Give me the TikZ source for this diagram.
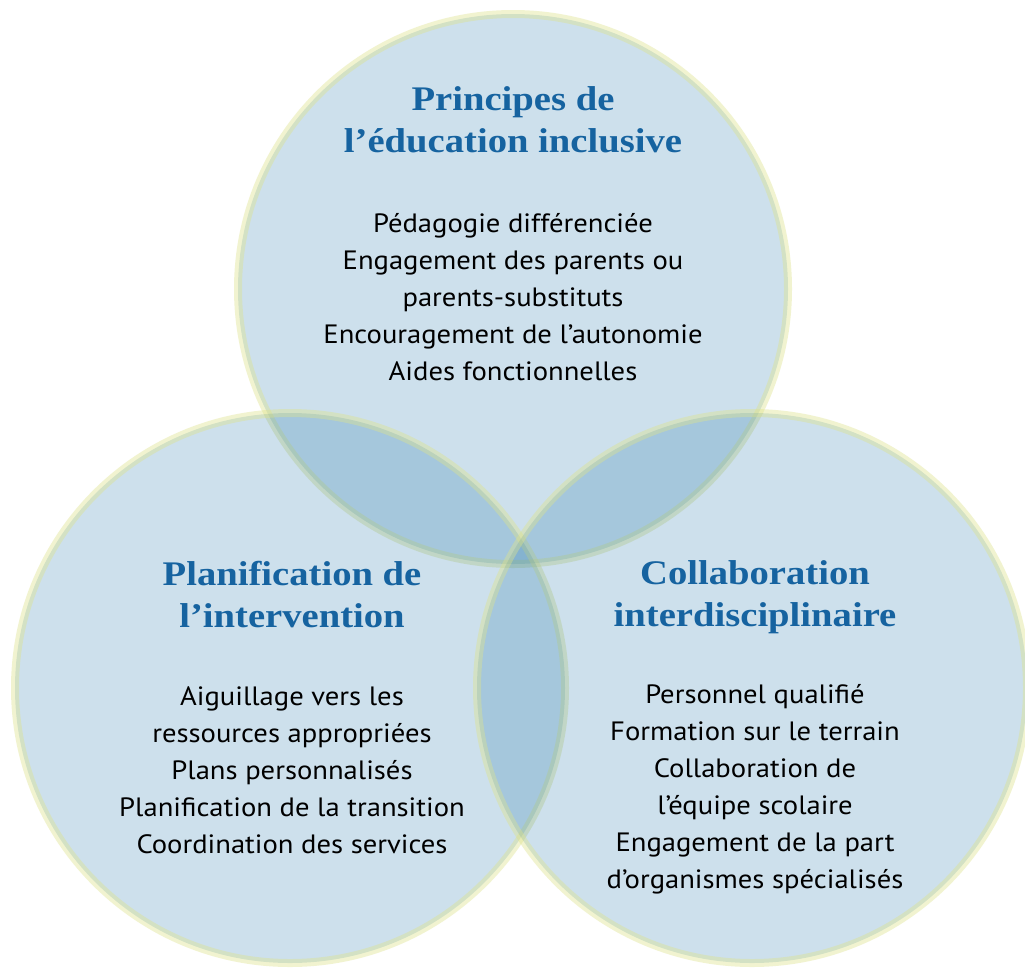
\documentclass[tikz,border=0pt]{standalone}
\usepackage{fontspec}
\setmainfont[FakeStretch=1.08]{PT Sans}
\newfontfamily\titlefont[FakeStretch=1.12]{Liberation Serif}

\definecolor{venntitle}{RGB}{22,99,160}
\definecolor{vennfill}{RGB}{5,100,160}
\definecolor{vennrim}{RGB}{222,227,138}

\tikzset{
  ring/.style={line width=8pt, draw=vennrim, draw opacity=0.4,
    fill=vennfill, fill opacity=0.2},
  heading/.style={anchor=base, text=venntitle,
    font=\titlefont\bfseries\fontsize{34.5}{40}\selectfont},
  item/.style={anchor=base, font=\fontsize{26.5}{30}\selectfont},
}

\begin{document}
\begin{tikzpicture}[x=1pt,y=-1pt]
\fill[white] (0,0) rectangle (1025,967);
\useasboundingbox (0,0) rectangle (1025,967);

% the three sets
\coordinate (principes) at (513,289);
\coordinate (planif) at (290,688);
\coordinate (collab) at (752,688);
\path[ring] (principes) circle[radius=275pt];
\path[ring] (planif) circle[radius=275pt];
\path[ring] (collab) circle[radius=275pt];

% top circle
\node[heading] (principes-h1) at (513,110) {Principes de};
\node[heading] (principes-h2) at (513,152) {l’éducation inclusive};
\foreach \txt [count=\i] in {Pédagogie différenciée, Engagement des parents ou,
  parents-substituts, Encouragement de l’autonomie, Aides fonctionnelles}
  \node[item] (principes-\i) at (513,{195+37*\i}) {\txt};

% left circle
\node[heading] (planif-h1) at (292,585) {Planification de};
\node[heading] (planif-h2) at (292,627) {l’intervention};
\foreach \txt [count=\i] in {Aiguillage vers les, ressources appropriées,
  Plans personnalisés, Planification de la transition, Coordination des services}
  \node[item] (planif-\i) at (292,{668+37*\i}) {\txt};

% right circle
\node[heading] (collab-h1) at (755,584) {Collaboration};
\node[heading] (collab-h2) at (755,626) {interdisciplinaire};
\foreach \txt [count=\i] in {Personnel qualifié, Formation sur le terrain,
  Collaboration de, l’équipe scolaire, Engagement de la part,
  d’organismes spécialisés}
  \node[item] (collab-\i) at (755,{666+37*\i}) {\txt};
\end{tikzpicture}
\end{document}
